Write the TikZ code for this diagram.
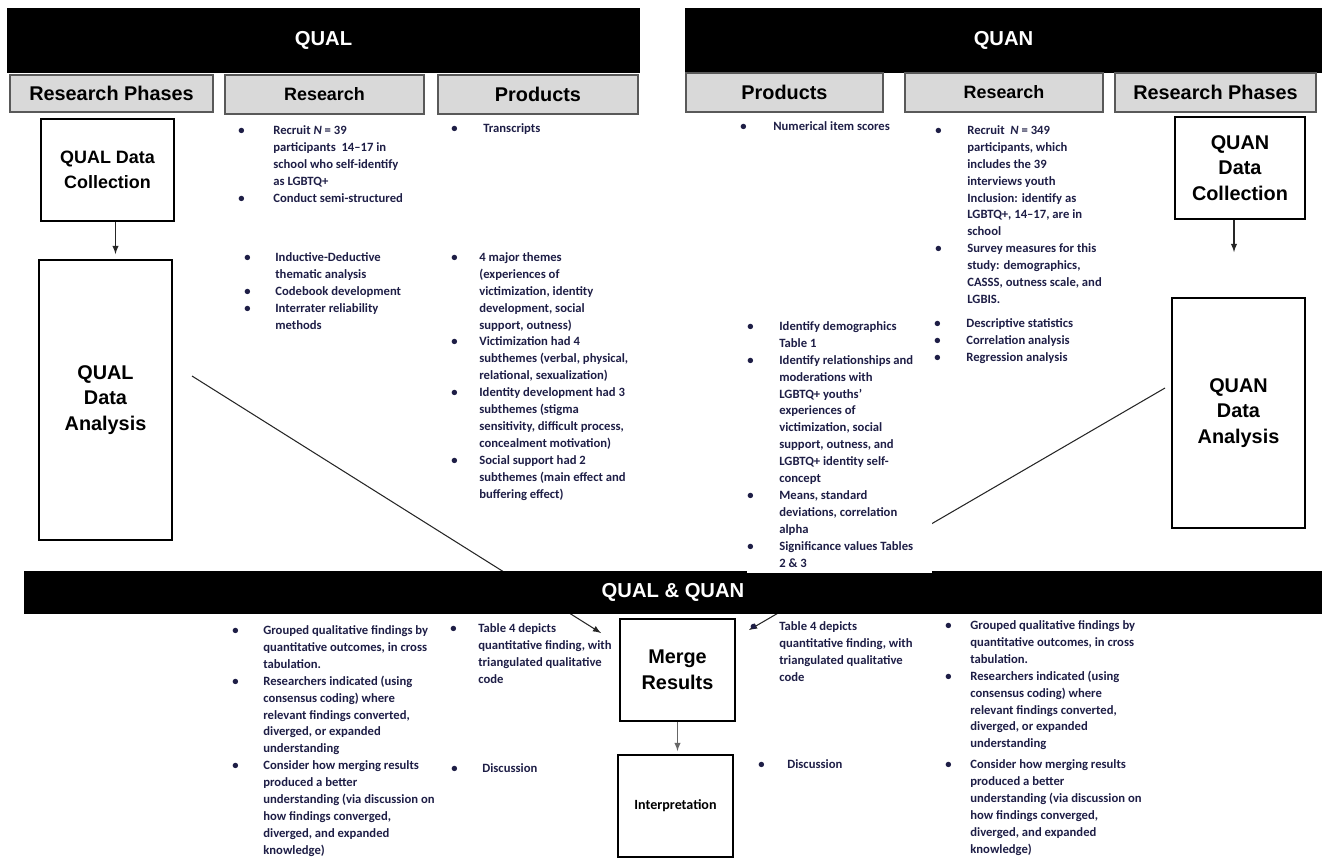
\documentclass[tikz,border=0pt]{standalone}
\usepackage{fontspec}
\setmainfont{Carlito}
\newfontfamily\arialfont{Liberation Sans}
\usepackage{tikz}
\usetikzlibrary{positioning,backgrounds}
\definecolor{bodytext}{RGB}{30,30,70}
\definecolor{headgray}{RGB}{217,217,217}

\begin{document}
\begin{tikzpicture}[x=0.02cm,y=-0.02cm,>=latex,
  bar/.style={fill=black,text=white,inner sep=0,font=\arialfont\bfseries\fontsize{11.5}{13}\selectfont},
  head/.style={fill=headgray,draw=black!65,line width=0.8pt,inner sep=0,font=\arialfont\bfseries\fontsize{11.3}{13}\selectfont},
  phase/.style={draw=black,line width=1.1pt,fill=white,inner sep=0,align=center,font=\arialfont\bfseries\fontsize{11.3}{14.7}\selectfont},
  items/.style={anchor=north west,inner sep=0,text=bodytext,font=\bfseries\fontsize{7.2}{9.65}\selectfont},
  link/.style={->,line width=0.6pt,draw=black!85}]
  \useasboundingbox (0,0) rectangle (1322,859);

  %Bars
  \node[bar,minimum width=12.66cm,minimum height=1.3cm] (qual) at (323.5,40.5) {QUAL};
  \node[bar,minimum width=12.74cm,minimum height=1.3cm] (quan) at (1003.5,40.5) {QUAN};
  \node[bar,minimum width=25.96cm,minimum height=0.86cm] (mixed) at (673,592.5) {QUAL \& QUAN};

  %Headers
  \node[head,minimum width=4.06cm,minimum height=0.74cm] (qualphases) at (111.5,93.5) {Research Phases};
  \node[head,minimum width=3.98cm,minimum height=0.78cm,font=\arialfont\bfseries\fontsize{10.2}{12}\selectfont] (qualresearch) at (324.5,94.5) {Research};
  \node[head,minimum width=4cm,minimum height=0.78cm] (qualproducts) at (538,94.5) {Products};
  \node[head,minimum width=3.94cm,minimum height=0.78cm] (quanproducts) at (784.5,92.5) {Products};
  \node[head,minimum width=3.96cm,minimum height=0.78cm,font=\arialfont\bfseries\fontsize{10.2}{12}\selectfont] (quanresearch) at (1004,92.5) {Research};
  \node[head,minimum width=4.02cm,minimum height=0.78cm] (quanphases) at (1215.5,92.5) {Research Phases};

  %Phases
  \node[phase,minimum width=2.66cm,minimum height=2.04cm,font=\arialfont\bfseries\fontsize{10.2}{14.2}\selectfont] (qualcollect) at (107.5,170) {QUAL Data\\Collection};
  \node[phase,minimum width=2.66cm,minimum height=5.6cm] (qualanalysis) at (105.5,400) {QUAL\\Data\\Analysis};
  \node[phase,minimum width=2.6cm,minimum height=2.04cm] (quancollect) at (1240,168) {QUAN\\Data\\Collection};
  \node[phase,minimum width=2.66cm,minimum height=4.6cm] (quananalysis) at (1238.5,413) {QUAN\\Data\\Analysis};
  \node[phase,minimum width=2.3cm,minimum height=2.04cm] (merge) at (677.5,670) {Merge\\Results};
  \node[phase,minimum width=2.3cm,minimum height=2.04cm,font=\bfseries\fontsize{8}{10}\selectfont] (interp) at (675.5,806) {Interpretation};

  %QUAL items
  \node[items] (qualrecruit) at (238,122) {\begin{tabular}{@{}p{0.7cm}@{}l@{}}
    \textbullet & Recruit \textit{N} = 39\\
    & participants\ \ 14--17 in\\
    & school who self-identify\\
    & as LGBTQ+\\
    \textbullet & Conduct semi-structured
  \end{tabular}};
  \node[items] (qualmethods) at (244,249) {\begin{tabular}{@{}p{0.62cm}@{}l@{}}
    \textbullet & Inductive-Deductive\\
    & thematic analysis\\
    \textbullet & Codebook development\\
    \textbullet & Interrater reliability\\
    & methods
  \end{tabular}};
  \node[items] (qualtranscripts) at (451,120) {\begin{tabular}{@{}p{0.64cm}@{}l@{}}
    \textbullet & Transcripts
  \end{tabular}};
  \node[items] (qualthemes) at (451,249) {\begin{tabular}{@{}p{0.56cm}@{}l@{}}
    \textbullet & 4 major themes\\
    & (experiences of\\
    & victimization, identity\\
    & development, social\\
    & support, outness)\\
    \textbullet & Victimization had 4\\
    & subthemes (verbal, physical,\\
    & relational, sexualization)\\
    \textbullet & Identity development had 3\\
    & subthemes (stigma\\
    & sensitivity, difficult process,\\
    & concealment motivation)\\
    \textbullet & Social support had 2\\
    & subthemes (main effect and\\
    & buffering effect)
  \end{tabular}};

  %QUAN items
  \node[items] (quanscores) at (740,118) {\begin{tabular}{@{}p{0.66cm}@{}l@{}}
    \textbullet & Numerical item scores
  \end{tabular}};
  \node[items,fill=white] (quanfindings) at (747,318) {\begin{tabular}{@{}p{0.64cm}@{}p{3.06cm}@{}}
    \textbullet & Identify demographics\\
    & Table 1\\
    \textbullet & Identify relationships and\\
    & moderations with\\
    & LGBTQ+ youths'\\
    & experiences of\\
    & victimization, social\\
    & support, outness, and\\
    & LGBTQ+ identity self-\\
    & concept\\
    \textbullet & Means, standard\\
    & deviations, correlation\\
    & alpha\\
    \textbullet & Significance values Tables\\
    & 2 \& 3
  \end{tabular}};
  \node[items] (quanrecruit) at (935,122) {\begin{tabular}{@{}p{0.64cm}@{}l@{}}
    \textbullet & Recruit\ \ \textit{N} = 349\\
    & participants, which\\
    & includes the 39\\
    & interviews youth\\
    & Inclusion: identify as\\
    & LGBTQ+, 14--17, are in\\
    & school\\
    \textbullet & Survey measures for this\\
    & study: demographics,\\
    & CASSS, outness scale, and\\
    & LGBIS.
  \end{tabular}};
  \node[items] (quanstats) at (934,315) {\begin{tabular}{@{}p{0.64cm}@{}l@{}}
    \textbullet & Descriptive statistics\\
    \textbullet & Correlation analysis\\
    \textbullet & Regression analysis
  \end{tabular}};

  %QUAL & QUAN items
  \node[items] (mixedleft) at (232,622) {\begin{tabular}{@{}p{0.62cm}@{}l@{}}
    \textbullet & Grouped qualitative findings by\\
    & quantitative outcomes, in cross\\
    & tabulation.\\
    \textbullet & Researchers indicated (using\\
    & consensus coding) where\\
    & relevant findings converted,\\
    & diverged, or expanded\\
    & understanding\\
    \textbullet & Consider how merging results\\
    & produced a better\\
    & understanding (via discussion on\\
    & how findings converged,\\
    & diverged, and expanded\\
    & knowledge)
  \end{tabular}};
  \node[items] (mixedtableleft) at (450,620) {\begin{tabular}{@{}p{0.56cm}@{}l@{}}
    \textbullet & Table 4 depicts\\
    & quantitative finding, with\\
    & triangulated qualitative\\
    & code
  \end{tabular}};
  \node[items] (mixeddiscleft) at (451,760) {\begin{tabular}{@{}p{0.62cm}@{}l@{}}
    \textbullet & Discussion
  \end{tabular}};
  \node[items] (mixedtableright) at (750,618) {\begin{tabular}{@{}p{0.58cm}@{}l@{}}
    \textbullet & Table 4 depicts\\
    & quantitative finding, with\\
    & triangulated qualitative\\
    & code
  \end{tabular}};
  \node[items] (mixeddiscright) at (758,756) {\begin{tabular}{@{}p{0.58cm}@{}l@{}}
    \textbullet & Discussion
  \end{tabular}};
  \node[items] (mixedright) at (945,617) {\begin{tabular}{@{}p{0.5cm}@{}l@{}}
    \textbullet & Grouped qualitative findings by\\
    & quantitative outcomes, in cross\\
    & tabulation.\\
    \textbullet & Researchers indicated (using\\
    & consensus coding) where\\
    & relevant findings converted,\\
    & diverged, or expanded\\
    & understanding\\[2pt]
    \textbullet & Consider how merging results\\
    & produced a better\\
    & understanding (via discussion on\\
    & how findings converged,\\
    & diverged, and expanded\\
    & knowledge)
  \end{tabular}};

  %Lines
  \draw[link,shorten >=0.1cm] ([xshift=0.16cm]qualcollect.south) -- ([xshift=0.16cm]qualcollect.south |- qualanalysis.north);
  \draw[link,shorten >=0.9cm] ([xshift=-0.12cm]quancollect.south) -- ([xshift=-0.12cm]quancollect.south |- quananalysis.north);
  \draw[link,draw=black!60,shorten >=0.06cm] (merge.south) -- (merge.south |- interp.north);
  \coordinate (qualfrom) at (192,376);
  \coordinate (qualto) at (601,633);
  \coordinate (quanfrom) at (1165,388);
  \coordinate (quanto) at (749,630);
  \begin{scope}[on background layer]
    \draw[link] (qualfrom) -- (qualto);
    \draw[link] (quanfrom) -- (quanto);
  \end{scope}
\end{tikzpicture}
\end{document}
